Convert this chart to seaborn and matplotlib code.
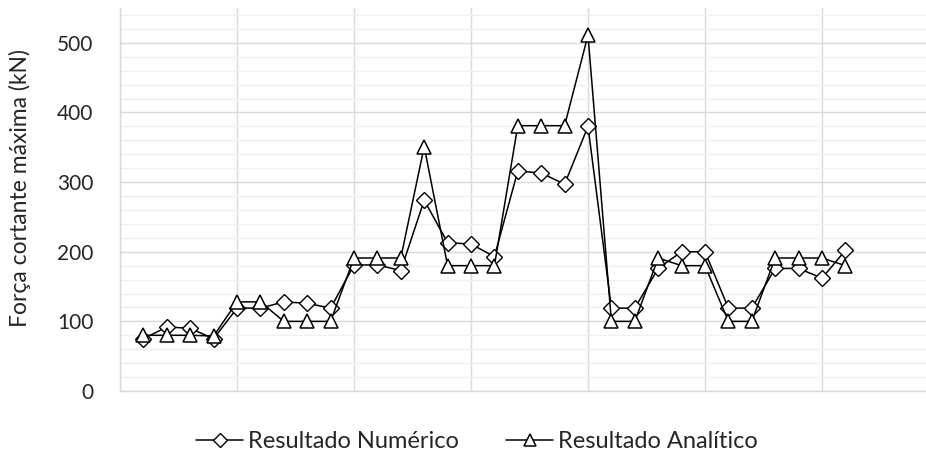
import numpy as np
import pandas as pd
import matplotlib
matplotlib.use("Agg")
import matplotlib.pyplot as plt
import seaborn as sns
from matplotlib.ticker import MultipleLocator

# Maximum shear force per analysed case (kN)
casos = list(range(1, 32))
numerico = [75, 92, 90, 75,
            119, 119, 128, 126, 119,
            181, 181, 173, 274, 213, 211, 193,
            316, 313, 297, 380,
            119, 119, 176, 200, 200, 119, 119,
            176, 176, 162, 202]
analitico = [80, 80, 80, 79,
             128, 128, 100, 100, 100,
             191, 191, 191, 351, 180, 180, 180,
             381, 381, 381, 511,
             100, 100, 191, 180, 180, 100, 100,
             191, 191, 191, 180]
rotulos = ["Resultado Numérico", "Resultado Analítico"]

sns.set_theme(style="white")
plt.rcParams["font.family"] = ["Lato", "DejaVu Sans"]

df = pd.DataFrame({"caso": casos, "num": numerico, "ana": analitico})

fig = plt.figure(figsize=(9.26, 4.54), dpi=100)
W, H = 926, 454
ax = fig.add_axes([120 / W, 1 - 391 / H, (939 - 120) / W, (391 - 8) / H])

sns.lineplot(data=df, x="caso", y="num", ax=ax, color="black", lw=1.1,
             marker="D", markersize=8.5, markerfacecolor="white",
             markeredgecolor="black", markeredgewidth=1.0,
             label=rotulos[0], legend=False, zorder=3)
sns.lineplot(data=df, x="caso", y="ana", ax=ax, color="black", lw=1.1,
             marker="^", markersize=10.5, markerfacecolor="white",
             markeredgecolor="black", markeredgewidth=1.1,
             label=rotulos[1], legend=False, zorder=4)

ax.set_xlim(0, 35)
ax.set_ylim(0, 550)
ax.xaxis.set_major_locator(MultipleLocator(5))
ax.yaxis.set_minor_locator(MultipleLocator(20))
ax.set_yticks(range(0, 501, 100))
ax.grid(True, which="major", axis="y", color="#d9d9d9", lw=1.0)
ax.grid(True, which="minor", axis="y", color="#f0f0f0", lw=1.0)
ax.grid(True, which="major", axis="x", color="#d9d9d9", lw=1.0)
ax.set_axisbelow(True)
ax.set_xticklabels([])
ax.tick_params(axis="x", length=0)
ax.tick_params(axis="y", which="both", length=0, labelsize=15, pad=19,
               labelcolor="#262626")
for s in ["top", "right"]:
    ax.spines[s].set_visible(False)
for s in ["left", "bottom"]:
    ax.spines[s].set_color("#d9d9d9")
    ax.spines[s].set_linewidth(1.0)

ax.set_xlabel("")
ax.set_ylabel("Força cortante máxima (kN)", fontsize=16.5, color="#262626")
ax.yaxis.set_label_coords(31 / W, 1 - 188 / H, transform=fig.transFigure)

handles = ax.get_lines()[:2]
fig.legend(handles, rotulos, loc="center", bbox_to_anchor=(477 / W, 1 - 442 / H),
           ncol=2, frameon=False, fontsize=17, handlelength=2.0,
           handletextpad=0.2, columnspacing=2.0, labelcolor="#262626",
           borderpad=0.0, markerscale=0.8)

fig.savefig("out.png", dpi=100)
